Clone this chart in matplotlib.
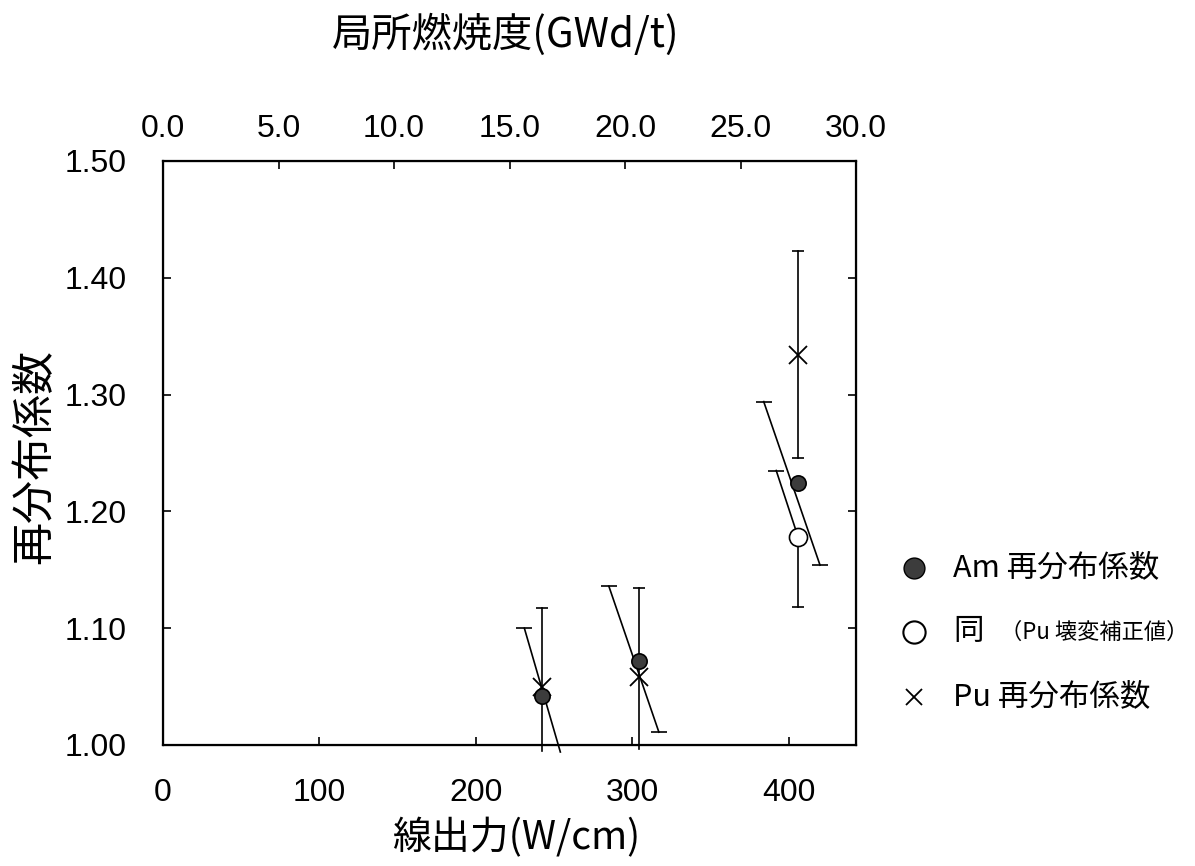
import matplotlib
matplotlib.use("Agg")
import matplotlib.pyplot as plt

plt.rcParams['font.family'] = ['Noto Sans CJK JP', 'DejaVu Sans']
NUM_FONT = ['Liberation Sans Narrow', 'Liberation Sans', 'DejaVu Sans']

# linear power (W/cm) of the three measured pellets
power = [242, 304, 406]

# Am redistribution factor and its slanted error bar ends (x, y)
am = [1.042, 1.072, 1.224]
am_err_top_x = [231, 285, 384]
am_err_top_y = [1.100, 1.136, 1.294]
am_err_bot_x = [254, 317, 420]
am_err_bot_y = [0.994, 1.011, 1.154]

# Am corrected for Pu decay (only the high power pellet)
am_corr_x = [406]
am_corr = [1.178]
am_corr_top_x = [392]
am_corr_top_y = [1.235]
am_corr_lo = [1.118]

# Pu redistribution factor with vertical error bars
pu = [1.050, 1.058, 1.334]
pu_hi = [1.117, 1.134, 1.423]
pu_lo = [0.995, 0.997, 1.246]

x_ticks = [0, 100, 200, 300, 400]
burnup_ticks = [0, 5, 10, 15, 20, 25, 30]
y_ticks = [1.00, 1.10, 1.20, 1.30, 1.40, 1.50]

fig = plt.figure(figsize=(11.95, 8.66), dpi=100)
ax = fig.add_axes([163 / 1195, 1 - 745 / 866, (856 - 163) / 1195, (745 - 161) / 866])

lw = 1.2
cap = dict(marker='_', markersize=12, markeredgewidth=lw, color='black', linestyle='none', clip_on=False)

# slanted Am error bars
for i in range(len(power)):
    ax.plot([am_err_top_x[i], am_err_bot_x[i]], [am_err_top_y[i], am_err_bot_y[i]],
            color='black', lw=lw, clip_on=False, zorder=2)
    ax.plot(am_err_top_x[i], am_err_top_y[i], **cap)
    if am_err_bot_y[i] >= 1.0:
        ax.plot(am_err_bot_x[i], am_err_bot_y[i], **cap)

# Pu vertical error bars
for i in range(len(power)):
    ax.plot([power[i], power[i]], [pu_lo[i], pu_hi[i]], color='black', lw=lw, clip_on=False, zorder=2)
    ax.plot(power[i], pu_hi[i], **dict(cap, markersize=9))
    if pu_lo[i] >= 1.0:
        ax.plot(power[i], pu_lo[i], **dict(cap, markersize=9))

# corrected Am error bar: slanted upper half, vertical lower half
for i in range(len(am_corr_x)):
    ax.plot([am_corr_top_x[i], am_corr_x[i]], [am_corr_top_y[i], am_corr[i]], color='black', lw=lw, zorder=2)
    ax.plot(am_corr_top_x[i], am_corr_top_y[i], **cap)
    ax.plot([am_corr_x[i], am_corr_x[i]], [am_corr[i], am_corr_lo[i]], color='black', lw=lw, zorder=2)
    ax.plot(am_corr_x[i], am_corr_lo[i], **dict(cap, markersize=9))

ax.plot(power, pu, linestyle='none', marker='x', markersize=13, markeredgewidth=1.3,
        color='black', zorder=3)
ax.plot(power, am, linestyle='none', marker='o', markersize=11, markerfacecolor='#3c3c3c',
        markeredgecolor='black', markeredgewidth=1.2, zorder=4)
ax.plot(am_corr_x, am_corr, linestyle='none', marker='o', markersize=13, markerfacecolor='white',
        markeredgecolor='black', markeredgewidth=1.2, zorder=4)

ax.set_xlim(0, 443)
ax.set_ylim(1.0, 1.5)
ax.set_xticks(x_ticks)
ax.set_xticklabels([str(v) for v in x_ticks], family=NUM_FONT, fontsize=23)
ax.set_yticks(y_ticks)
ax.set_yticklabels(['%.2f' % v for v in y_ticks], family=NUM_FONT, fontsize=23)
ax.tick_params(axis='x', direction='in', length=6, width=1.2, pad=24)
ax.tick_params(axis='y', direction='in', length=6, width=1.2, pad=26, right=True)
for s in ax.spines.values():
    s.set_linewidth(1.6)

ax2 = ax.twiny()
ax2.set_xlim(0, 30)
ax2.set_xticks(burnup_ticks)
ax2.set_xticklabels(['%.1f' % v for v in burnup_ticks], family=NUM_FONT, fontsize=23)
ax2.tick_params(axis='x', direction='in', length=6, width=1.2, pad=12)

fig.text(506 / 1195, 1 - 35 / 866, '局所燃焼度(GWd/t)', fontsize=29, ha='center', va='center')
fig.text(516 / 1195, 1 - 838 / 866, '線出力(W/cm)', fontsize=28, ha='center', va='center')
fig.text(35 / 1195, 1 - 457 / 866, '再分布係数', fontsize=31, ha='center', va='center', rotation=90)

# legend drawn beside the axes
lx = 914 / 1195
tx = 953 / 1195
rows = [1 - 568 / 866, 1 - 632 / 866, 1 - 697 / 866]
fig.add_artist(plt.Line2D([lx], [rows[0]], transform=fig.transFigure, marker='o', markersize=15,
                          markerfacecolor='#3c3c3c', markeredgecolor='black', linestyle='none'))
fig.add_artist(plt.Line2D([lx], [rows[1]], transform=fig.transFigure, marker='o', markersize=16,
                          markerfacecolor='white', markeredgecolor='black', markeredgewidth=1.5,
                          linestyle='none'))
fig.add_artist(plt.Line2D([lx], [rows[2]], transform=fig.transFigure, marker='x', markersize=11,
                          markeredgewidth=1.3, color='black', linestyle='none'))
fig.text(tx, rows[0], 'Am 再分布係数', fontsize=22, va='center')
fig.text(tx, rows[1], '同', fontsize=22, va='center')
fig.text(1000 / 1195, rows[1], '（Pu 壊変補正値）', fontsize=16, va='center')
fig.text(tx, rows[2], 'Pu 再分布係数', fontsize=22, va='center')

fig.savefig('out.png', dpi=100)
